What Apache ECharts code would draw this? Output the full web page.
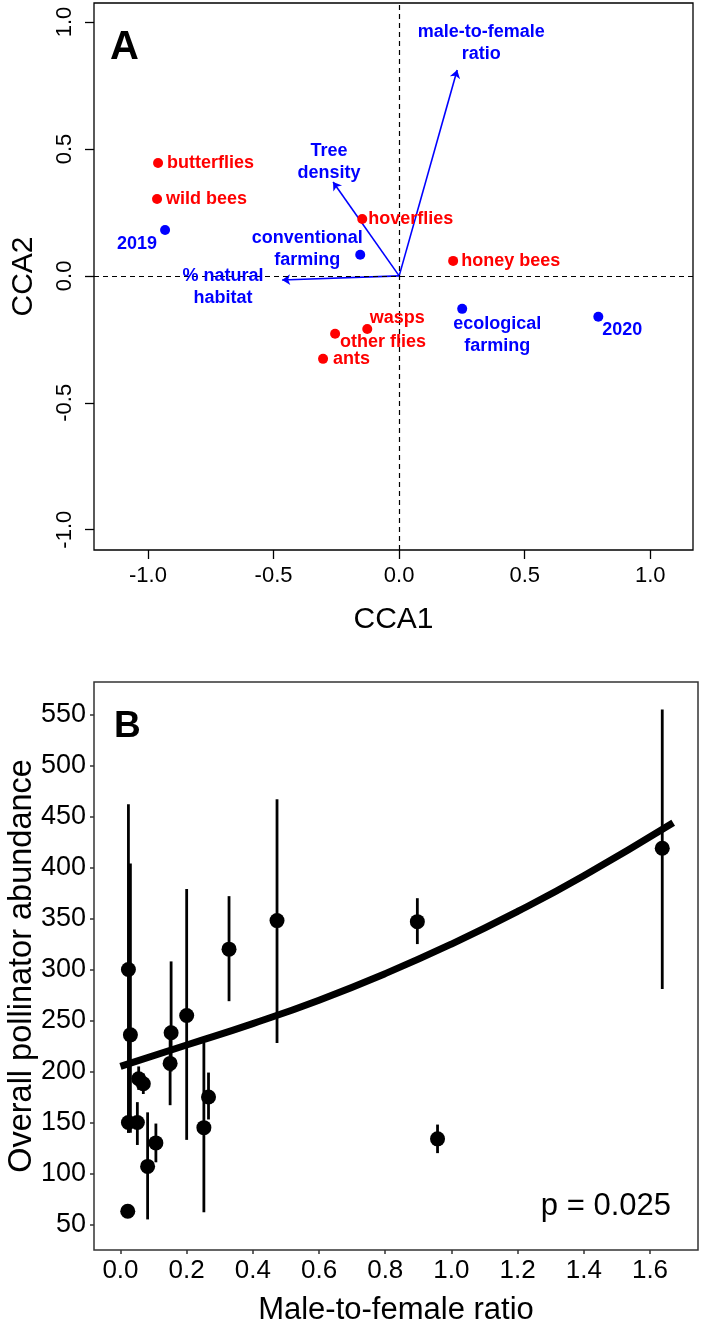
<!DOCTYPE html>
<html>
<head>
<meta charset="utf-8">
<title>CCA and pollinator abundance</title>
<script src="https://cdn.jsdelivr.net/npm/echarts@6.0.0/dist/echarts.min.js"></script>
<style>
  body { margin: 0; padding: 0; background: #fff; }
  #main { width: 704px; height: 1323px; }
</style>
</head>
<body>
<div id="main"></div>
<script>
// ---- panel A: CCA biplot ----
var speciesNames = ['butterflies', 'wild bees', 'hoverflies', 'honey bees', 'wasps', 'other flies', 'ants'];
var speciesX = [-0.960, -0.964, -0.147, 0.215, -0.127, -0.255, -0.303];
var speciesY = [0.445, 0.303, 0.224, 0.059, -0.209, -0.228, -0.327];

var siteNames = ['2019', 'conventional\nfarming', 'ecological\nfarming', '2020'];
var siteX = [-0.932, -0.155, 0.251, 0.793];
var siteY = [0.181, 0.083, -0.130, -0.161];

var envNames = ['male-to-female\nratio', 'Tree\ndensity', '% natural\nhabitat'];
var envX = [0.231, -0.263, -0.466];
var envY = [0.811, 0.370, -0.016];

var ccaTicks = [-1.0, -0.5, 0.0, 0.5, 1.0];

// ---- panel B: abundance vs male-to-female ratio ----
var ratio = [0.024, 0.030, 0.024, 0.051, 0.055, 0.069, 0.082, 0.107, 0.150, 0.153, 0.200, 0.252, 0.266, 0.328, 0.473, 0.897, 0.958, 1.637, 0.022];
var abundance = [300, 236, 150, 150, 193, 188, 107, 130, 208, 238, 255, 145, 175, 320, 348, 347, 134, 419, 63];
var lower = [140, 140, 140, 128, 182, 178, 55, 111, 167, 200, 133, 62, 153, 269, 228, 325, 120, 281, 58];
var upper = [462, 404, 160, 170, 205, 198, 160, 149, 245, 308, 379, 228, 199, 372, 467, 370, 148, 555, 68];

var fitX = [0.0, 0.2, 0.4, 0.6, 0.8, 1.0, 1.2, 1.4, 1.67];
var fitY = [205, 226, 247, 270, 296, 325, 357, 392, 444];

var ratioTicks = [0, 0.2, 0.4, 0.6, 0.8, 1.0, 1.2, 1.4, 1.6];
var abundanceTicks = [50, 100, 150, 200, 250, 300, 350, 400, 450, 500, 550];

// label placement (styling only)
var labelPlace = {
  'butterflies': {position: 'right', distance: 4},
  'wild bees': {position: 'right', distance: 4},
  'hoverflies': {position: 'right', distance: 1},
  'honey bees': {position: 'right', distance: 3},
  'wasps': {position: 'inside', offset: [30, -11]},
  'other flies': {position: 'inside', offset: [48, 8]},
  'ants': {position: 'right', distance: 5},
  '2019': {position: 'inside', offset: [-28, 14]},
  'conventional\nfarming': {position: 'inside', offset: [-53, -6]},
  'ecological\nfarming': {position: 'inside', offset: [35, 26]},
  '2020': {position: 'inside', offset: [24, 13]},
  'male-to-female\nratio': {position: 'inside', offset: [24, -27]},
  'Tree\ndensity': {position: 'inside', offset: [-4, -20]},
  '% natural\nhabitat': {position: 'inside', offset: [-59, 7]}
};

var sans = "'Liberation Sans', Arial, sans-serif";

function pointItems(names, xs, ys) {
  var out = [];
  for (var i = 0; i < names.length; i++) {
    var lp = labelPlace[names[i]] || {position: 'right'};
    out.push({
      name: names[i],
      value: [xs[i], ys[i]],
      label: Object.assign({show: true, formatter: '{b}'}, lp)
    });
  }
  return out;
}

var arrowData = [];
for (var i = 0; i < envNames.length; i++) {
  arrowData.push({coords: [[0, 0], [envX[i], envY[i]]]});
}

var pointsB = [];
var barsB = [];
for (var j = 0; j < ratio.length; j++) {
  pointsB.push([ratio[j], abundance[j]]);
  barsB.push([ratio[j], lower[j], upper[j]]);
}
var fitData = [];
for (var k = 0; k < fitX.length; k++) {
  fitData.push([fitX[k], fitY[k]]);
}

var chart = echarts.init(document.getElementById('main'));

var option = {
  animation: false,
  backgroundColor: '#fff',
  grid: [
    {left: 94, top: 3, width: 599, height: 547, show: true, borderColor: '#000', borderWidth: 1.3,
      backgroundColor: 'transparent', containLabel: false, outerBoundsMode: 'none'},
    {left: 94, top: 682, width: 604, height: 568, show: true, borderColor: '#333', borderWidth: 1.5,
      backgroundColor: 'transparent', containLabel: false, outerBoundsMode: 'none'}
  ],
  xAxis: [
    {
      gridIndex: 0, type: 'value', min: -1.215, max: 1.17,
      name: 'CCA1', nameLocation: 'middle', nameGap: 55,
      nameTextStyle: {fontSize: 30, fontFamily: sans, color: '#000'},
      axisLine: {show: false, onZero: false},
      axisTick: {show: true, length: 9, customValues: ccaTicks, lineStyle: {color: '#000', width: 1.3}},
      axisLabel: {customValues: ccaTicks, fontSize: 22, fontFamily: sans, color: '#000', margin: 15,
        formatter: function (v) { return v.toFixed(1); }},
      splitLine: {show: false}
    },
    {
      gridIndex: 1, type: 'value', min: -0.08, max: 1.745,
      name: 'Male-to-female ratio', nameLocation: 'middle', nameGap: 45,
      nameTextStyle: {fontSize: 31, fontFamily: sans, color: '#000'},
      axisLine: {show: false, onZero: false},
      axisTick: {show: true, length: 4, customValues: ratioTicks, lineStyle: {color: '#333', width: 1.5}},
      axisLabel: {customValues: ratioTicks, fontSize: 26, fontFamily: sans, color: '#000', margin: 8,
        formatter: function (v) { return v.toFixed(1); }},
      splitLine: {show: false}
    }
  ],
  yAxis: [
    {
      gridIndex: 0, type: 'value', min: -1.08, max: 1.075,
      name: 'CCA2', nameLocation: 'middle', nameGap: 55,
      nameTextStyle: {fontSize: 30, fontFamily: sans, color: '#000'},
      axisLine: {show: false, onZero: false},
      axisTick: {show: true, length: 9, customValues: ccaTicks, lineStyle: {color: '#000', width: 1.3}},
      axisLabel: {customValues: ccaTicks, fontSize: 22, fontFamily: sans, color: '#000', margin: 18, rotate: 90,
        formatter: function (v) { return v.toFixed(1); }},
      splitLine: {show: false}
    },
    {
      gridIndex: 1, type: 'value', min: 25, max: 582,
      name: 'Overall pollinator abundance', nameLocation: 'middle', nameGap: 55, nameMoveOverlap: false,
      nameTextStyle: {fontSize: 32.5, fontFamily: sans, color: '#000'},
      axisLine: {show: false, onZero: false},
      axisTick: {show: true, length: 4, customValues: abundanceTicks, lineStyle: {color: '#333', width: 1.5}},
      axisLabel: {customValues: abundanceTicks, fontSize: 27, fontFamily: sans, color: '#000', margin: 8},
      splitLine: {show: false}
    }
  ],
  graphic: [
    {type: 'text', left: 110, top: 28, style: {text: 'A', fontSize: 40, fontWeight: 'bold', fontFamily: sans, fill: '#000'}},
    {type: 'text', left: 114, top: 708, style: {text: 'B', fontSize: 37, fontWeight: 'bold', fontFamily: sans, fill: '#000'}},
    {type: 'text', right: 33, top: 1191, style: {text: 'p = 0.025', fontSize: 31, fontFamily: sans, fill: '#000'}}
  ],
  series: [
    {
      name: 'species', type: 'scatter', xAxisIndex: 0, yAxisIndex: 0,
      symbolSize: 10, itemStyle: {color: '#ff0000', opacity: 1},
      label: {color: '#ff0000', fontSize: 18, fontWeight: 'bold', fontFamily: sans},
      data: pointItems(speciesNames, speciesX, speciesY),
      markLine: {
        silent: true, symbol: 'none', animation: false,
        label: {show: false},
        lineStyle: {color: '#000', type: [5, 4], width: 1.2},
        data: [{xAxis: 0}, {yAxis: 0}]
      },
      z: 5
    },
    {
      name: 'sites', type: 'scatter', xAxisIndex: 0, yAxisIndex: 0,
      symbolSize: 10, itemStyle: {color: '#0000ff', opacity: 1},
      label: {color: '#0000ff', fontSize: 18, fontWeight: 'bold', fontFamily: sans, lineHeight: 22, align: 'center'},
      data: pointItems(siteNames, siteX, siteY),
      z: 5
    },
    {
      name: 'arrows', type: 'lines', coordinateSystem: 'cartesian2d', xAxisIndex: 0, yAxisIndex: 0,
      symbol: ['none', 'arrow'], symbolSize: 8,
      lineStyle: {color: '#0000ff', width: 1.6, opacity: 1},
      data: arrowData,
      z: 4
    },
    {
      name: 'env', type: 'scatter', xAxisIndex: 0, yAxisIndex: 0,
      symbolSize: 0, itemStyle: {color: 'transparent', opacity: 1},
      label: {color: '#0000ff', fontSize: 18, fontWeight: 'bold', fontFamily: sans, lineHeight: 22, align: 'center', opacity: 1},
      data: pointItems(envNames, envX, envY),
      z: 5
    },
    {
      name: 'error bars', type: 'custom', xAxisIndex: 1, yAxisIndex: 1,
      renderItem: function (params, api) {
        var lo = api.coord([api.value(0), api.value(1)]);
        var hi = api.coord([api.value(0), api.value(2)]);
        return {
          type: 'line',
          shape: {x1: lo[0], y1: lo[1], x2: hi[0], y2: hi[1]},
          style: {stroke: '#000', lineWidth: 2.8}
        };
      },
      encode: {x: 0, y: [1, 2]},
      data: barsB,
      z: 2
    },
    {
      name: 'abundance', type: 'scatter', xAxisIndex: 1, yAxisIndex: 1,
      symbolSize: 15, itemStyle: {color: '#000', opacity: 1},
      data: pointsB,
      z: 3
    },
    {
      name: 'fit', type: 'line', xAxisIndex: 1, yAxisIndex: 1,
      smooth: true, showSymbol: false, symbol: 'none',
      lineStyle: {color: '#000', width: 7},
      data: fitData,
      z: 4
    }
  ]
};

chart.setOption(option);
</script>
</body>
</html>
